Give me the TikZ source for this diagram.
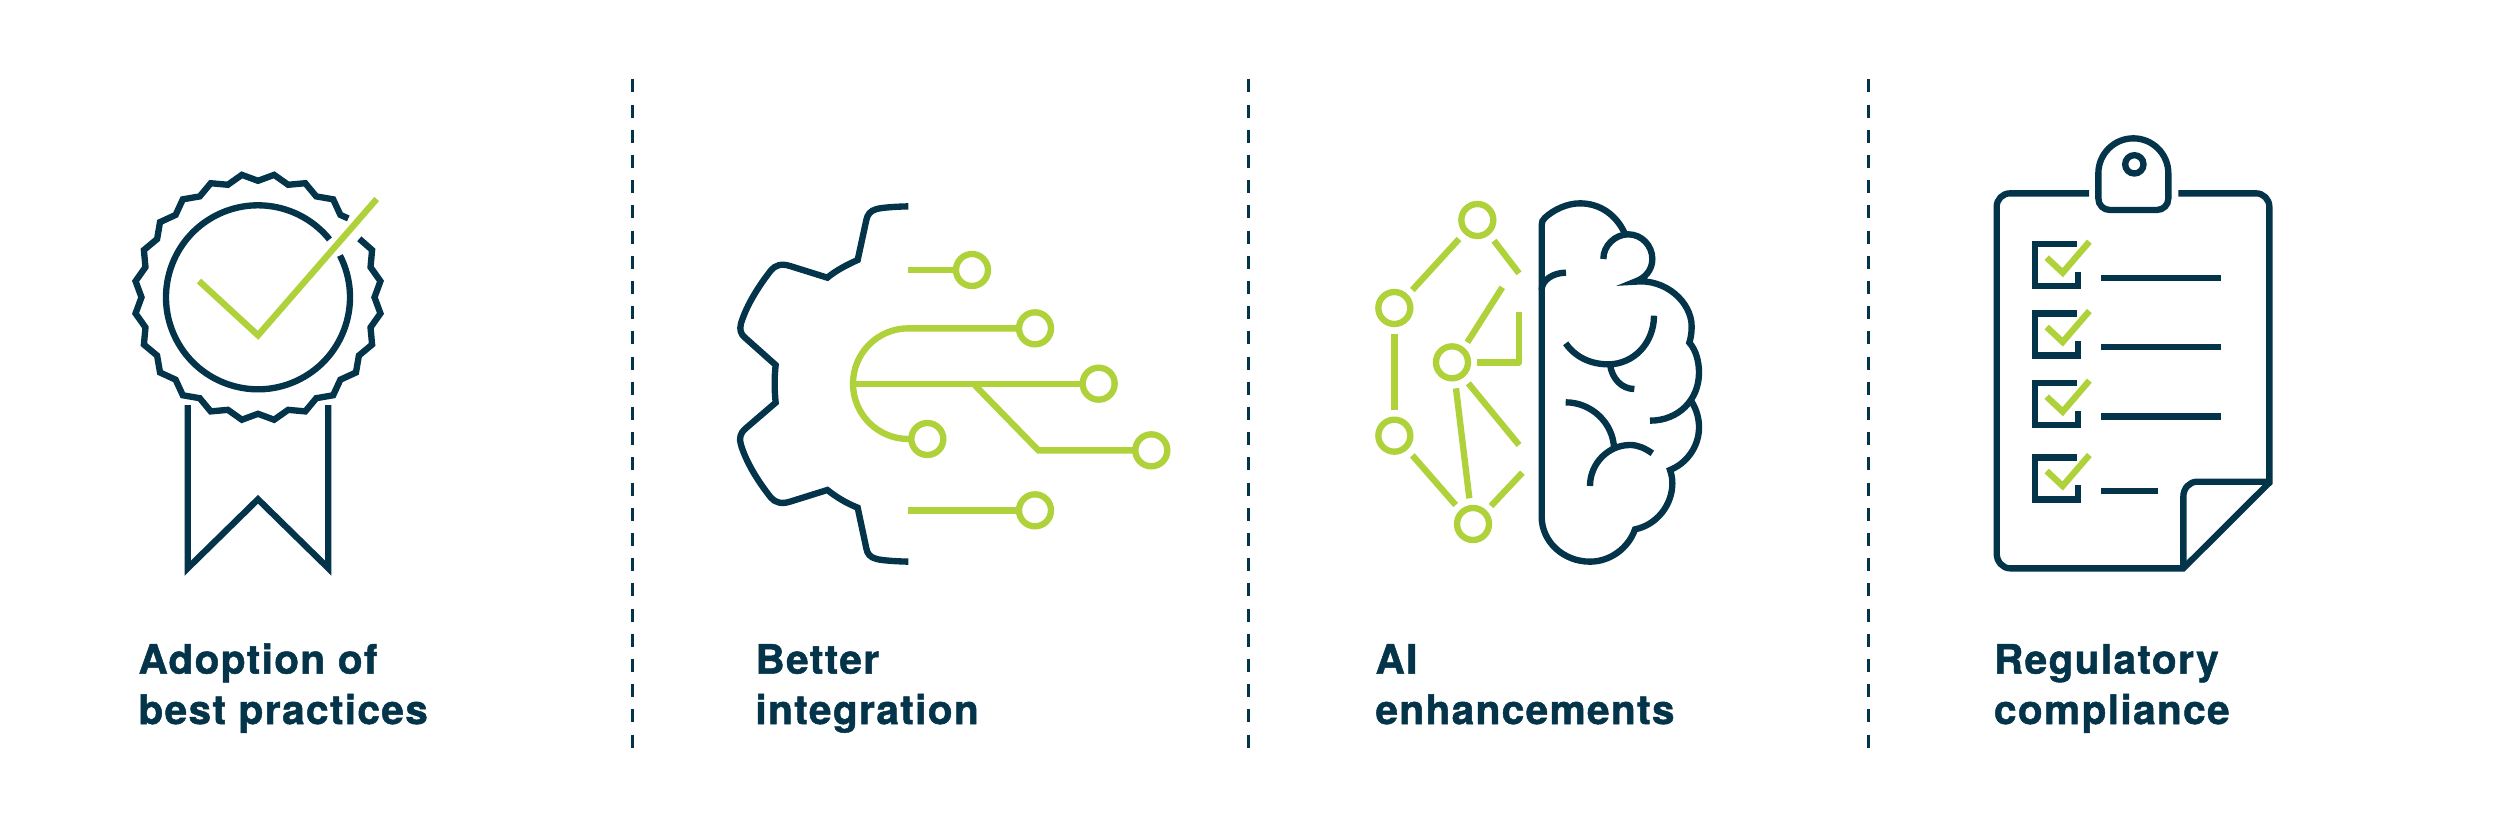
\documentclass[tikz,border=0pt]{standalone}
\usepackage{fontspec}
\setmainfont{TeX Gyre Heros}[LetterSpace=3.4,FakeBold=1.2]
\definecolor{navy}{HTML}{03344A}
\definecolor{lime}{HTML}{AFD23A}
\tikzset{
  ink/.style={draw=navy,line width=1.9mm,line cap=butt,line join=miter,fill=none},
  leaf/.style={draw=lime,line width=1.9mm,line cap=butt,line join=miter,fill=none},
  rule/.style={draw=navy,line width=1.05mm,dash pattern=on 3.9mm off 3.66mm},
  lbl/.style={text=navy,font=\fontsize{34.6pt}{43pt}\selectfont\bfseries,align=left,inner sep=0pt,outer sep=0pt,anchor=base west},
  zoomA/.style={shift={(710,180)},scale=1/3},
  zoomB/.style={shift={(1350,180)},scale=1/3},
  zoomC/.style={shift={(1970,120)},scale=1/3}
}
\begin{document}
\begin{tikzpicture}[x=0.3mm,y=-0.3mm]
\useasboundingbox[fill=white] (0,0) rectangle (2500,823);
% dividers
\coordinate (d1a) at (632.7,79.3); \coordinate (d1b) at (632.7,748);
\coordinate (d2a) at (1248.5,79.3); \coordinate (d2b) at (1248.5,748);
\coordinate (d3a) at (1868.7,79.3); \coordinate (d3b) at (1868.7,748);
\draw[rule] (d1a) -- (d1b);
\draw[rule] (d2a) -- (d2b);
\draw[rule] (d3a) -- (d3b);
% badge
\begin{scope}[shift={(258,297.3)}]
\draw[ink] (-30:117) \foreach \k in {9,10,...,54} { -- ({\k*7.5-90}:{120-3.5*cos(\k*180)}) } -- (90.3,-78.9);
\draw[ink] (-27:92) arc[start angle=-27,end angle=321,radius=92];
\draw[leaf] (-59,-16.3) -- (0,38) -- (118.7,-98.3);
\end{scope}
\draw[ink] (187.7,405) -- (187.7,568.2) -- (258,499.3) -- (328.3,568.2) -- (328.3,405);
% gear
\begin{scope}[zoomA]
\draw[ink] (595,79) .. controls (560,80) and (520,82) .. (500,87) .. controls (480,92) and (472,105) .. (469,120)
  -- (443,240) .. controls (410,255) and (380,270) .. (352,293) -- (240,258) .. controls (215,250) and (195,255) .. (182,272)
  .. controls (145,320) and (110,375) .. (93,430) .. controls (88,450) and (92,462) .. (105,473) -- (197,555)
  .. controls (193,590) and (193,630) .. (197,668) -- (105,747) .. controls (92,758) and (86,775) .. (93,795)
  .. controls (110,850) and (145,905) .. (182,952) .. controls (195,968) and (215,973) .. (240,965) -- (352,930)
  .. controls (380,952) and (410,970) .. (443,983) -- (469,1105) .. controls (472,1122) and (480,1132) .. (500,1137)
  .. controls (520,1142) and (560,1144) .. (595,1145);
\draw[leaf] (786,270) circle[radius=48];
\draw[leaf] (975,445) circle[radius=48];
\draw[leaf] (1166,611) circle[radius=48];
\draw[leaf] (1324,811) circle[radius=48];
\draw[leaf] (652,777) circle[radius=48];
\draw[leaf] (975,991) circle[radius=48];
\draw[leaf] (595,270) -- (738,270);
\draw[leaf] (927,445) -- (595,445) arc[start angle=270,end angle=90,radius=166] -- (604,777);
\draw[leaf] (429,611) -- (1118,611);
\draw[leaf] (795,616) -- (985,811) -- (1276,811);
\draw[leaf] (595,991) -- (927,991);
\end{scope}
% brain
\begin{scope}[zoomB]
\foreach \p in {(382,120),(133,384),(306,547),(133,767),(369,1032)} \draw[leaf] \p circle[radius=48];
\draw[leaf] (327,177) -- (187,330);
\draw[leaf] (432,182) -- (507,280);
\draw[leaf] (457,322) -- (352,487);
\draw[leaf,line join=round] (507,395) -- (507,547) -- (382,547);
\draw[leaf] (133,462) -- (133,690);
\draw[leaf] (355,610) -- (507,795);
\draw[leaf] (318,625) -- (358,955);
\draw[leaf] (187,826) -- (317,975);
\draw[leaf] (517,878) -- (423,978);
\draw[ink] (825,162) .. controls (800,105) and (750,70) .. (690,70) .. controls (650,70) and (610,90) .. (585,113)
  .. controls (578,120) and (575,125) .. (575,135) -- (575,1010)
  .. controls (575,1085) and (640,1145) .. (720,1145) .. controls (780,1145) and (835,1105) .. (855,1048)
  .. controls (920,1035) and (967,975) .. (967,910) .. controls (967,895) and (965,885) .. (960,870)
  .. controls (1010,850) and (1047,800) .. (1047,742) .. controls (1047,715) and (1040,690) .. (1025,665);
\draw[ink] (760,237) .. controls (760,197) and (795,163) .. (835,163) .. controls (875,163) and (907,197) .. (907,237)
  .. controls (907,270) and (885,295) .. (855,305) .. controls (945,295) and (1025,365) .. (1025,440)
  .. controls (1025,460) and (1022,475) .. (1018,488) .. controls (1038,510) and (1047,545) .. (1047,578)
  .. controls (1047,660) and (985,722) .. (900,722);
\draw[ink] (575,330) .. controls (575,300) and (610,278) .. (648,278);
\draw[ink] (912,407) .. controls (912,490) and (850,553) .. (775,553) .. controls (720,553) and (675,530) .. (647,490);
\draw[ink] (780,553) .. controls (785,595) and (815,627) .. (853,627);
\draw[ink] (647,667) .. controls (725,667) and (790,730) .. (792,805);
\draw[ink] (720,918) .. controls (720,850) and (775,795) .. (840,795) .. controls (865,795) and (885,805) .. (907,820);
\end{scope}
% clipboard
\begin{scope}[zoomC]
\draw[ink] (357,220) -- (120,220) .. controls (98,220) and (80,238) .. (80,260) -- (80,1300)
  .. controls (80,1325) and (98,1345) .. (120,1345) -- (640,1345) -- (898,1088) -- (898,260)
  .. controls (898,238) and (880,220) .. (858,220) -- (625,220);
\draw[ink] (640,1345) -- (640,1130) .. controls (640,1105) and (658,1085) .. (682,1085) -- (898,1085);
\draw[ink] (385,160) arc[start angle=180,end angle=360,radius=105]
  -- (595,235) .. controls (595,255) and (580,270) .. (560,270) -- (420,270)
  .. controls (400,270) and (385,255) .. (385,235) -- cycle;
\draw[ink] (493,133) circle[radius=27.5];
\foreach \y in {372,580,789,1012} {
  \draw[ink] (320,\y) -- (195,\y) -- (195,\y+126) -- (323,\y+126) -- (323,\y+84);
  \draw[leaf] (230,\y+41) -- (278,\y+86) -- (358,\y-7);
}
\draw[ink] (393,473) -- (753,473);
\draw[ink] (393,681) -- (753,681);
\draw[ink] (393,889) -- (753,889);
\draw[ink] (393,1112) -- (563,1112);
\end{scope}
% labels
\node[lbl] (t1) at (138.5,724) {Adoption of\\best practices};
\node[lbl] (t2) at (755.5,724) {Better\\integration};
\node[lbl] (t3) at (1375.5,724) {AI\\enhancements};
\node[lbl] (t4) at (1994,724) {Regulatory\\compliance};
\end{tikzpicture}
\end{document}
